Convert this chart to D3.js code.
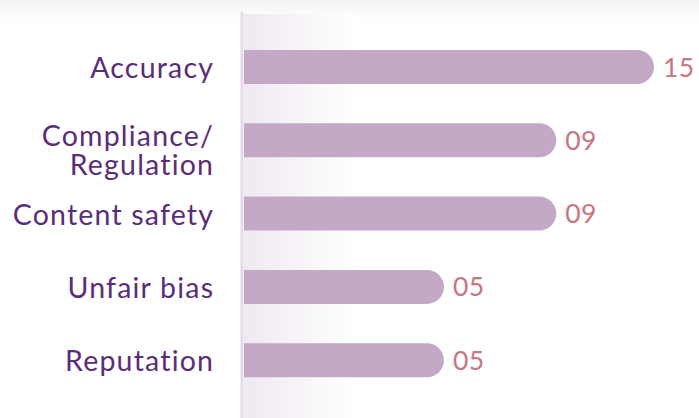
<!DOCTYPE html>
<html>
<head>
<meta charset="utf-8">
<script src="https://cdn.jsdelivr.net/npm/d3@7"></script>
<style>
	html, body { margin: 0; padding: 0; background: #fff; }
	svg { display: block; }
	text { font-variant-ligatures: none; }
</style>
</head>
<body>
<svg id="chart" width="699" height="418"></svg>
<script>
const categories = ["Accuracy", "Compliance/\nRegulation", "Content safety", "Unfair bias", "Reputation"];
const counts = [15, 9, 9, 5, 5];
const valueLabels = ["15", "09", "09", "05", "05"];

const svg = d3.select("#chart");
const width = +svg.attr("width");
const height = +svg.attr("height");
const left = 244;

const defs = svg.append("defs");
const topFade = defs.append("linearGradient")
	.attr("id", "topFade")
	.attr("x1", 0).attr("y1", 0).attr("x2", 0).attr("y2", 1);
topFade.append("stop").attr("offset", "0%").attr("stop-color", "#f4f2f4");
topFade.append("stop").attr("offset", "100%").attr("stop-color", "#ffffff");

const sideFade = defs.append("linearGradient")
	.attr("id", "sideFade")
	.attr("x1", 0).attr("y1", 0).attr("x2", 1).attr("y2", 0);
sideFade.append("stop").attr("offset", "0%").attr("stop-color", "#efe9f1");
sideFade.append("stop").attr("offset", "100%").attr("stop-color", "#ffffff");

svg.append("rect")
	.attr("x", 0).attr("y", 0)
	.attr("width", width).attr("height", 20)
	.attr("fill", "url(#topFade)");

svg.append("rect")
	.attr("x", left).attr("y", 14)
	.attr("width", 110).attr("height", height - 14)
	.attr("fill", "url(#sideFade)");

// bars are not linear in the source, a log scale reproduces them
const x = d3.scaleLog()
	.domain([1.757, 15])
	.range([left, 654]);

const y = d3.scaleBand()
	.domain(categories)
	.range([30.2, 397])
	.paddingInner(0.536)
	.paddingOuter(0.27);

svg.append("line")
	.attr("x1", left - 2).attr("x2", left - 2)
	.attr("y1", 12).attr("y2", height)
	.attr("stroke", "#e4dae8")
	.attr("stroke-width", 3);

const bh = y.bandwidth();
const r = bh / 2;

svg.append("g")
	.selectAll("path")
	.data(categories)
	.enter()
	.append("path")
	.attr("d", (d, i) => {
		const x1 = x(counts[i]);
		const y0 = y(d);
		return "M" + left + "," + y0 +
			"H" + (x1 - r) +
			"A" + r + "," + r + " 0 0 1 " + (x1 - r) + "," + (y0 + bh) +
			"H" + left + "Z";
	})
	.attr("fill", "#c3a9c6");

svg.append("g")
	.selectAll("text")
	.data(categories)
	.enter()
	.append("text")
	.attr("x", (d, i) => x(counts[i]) + 9)
	.attr("y", d => y(d) + bh / 2)
	.attr("dy", "0.36em")
	.attr("font-family", "Lato, sans-serif")
	.attr("font-size", 26.5)
	.attr("letter-spacing", 0.4)
	.attr("fill", "#c97683")
	.text((d, i) => valueLabels[i]);

const ls = 1.2;
const labels = svg.append("g")
	.selectAll("text")
	.data(categories)
	.enter()
	.append("text")
	.attr("text-anchor", "end")
	.attr("font-family", "Lato, sans-serif")
	.attr("font-size", 28.5)
	.attr("letter-spacing", ls)
	.attr("fill", "#5a2d78");

labels.each(function(d) {
	const lines = d.split("\n");
	const cy = y(d) + bh / 2;
	const lh = 29.5;
	const first = cy + (lines.length > 1 ? 10 : 1) - (lines.length - 1) * lh / 2;
	lines.forEach((line, j) => {
		d3.select(this).append("tspan")
			.attr("x", 213 + ls)
			.attr("y", first + j * lh)
			.attr("dy", "0.36em")
			.text(line);
	});
});
</script>
</body>
</html>
